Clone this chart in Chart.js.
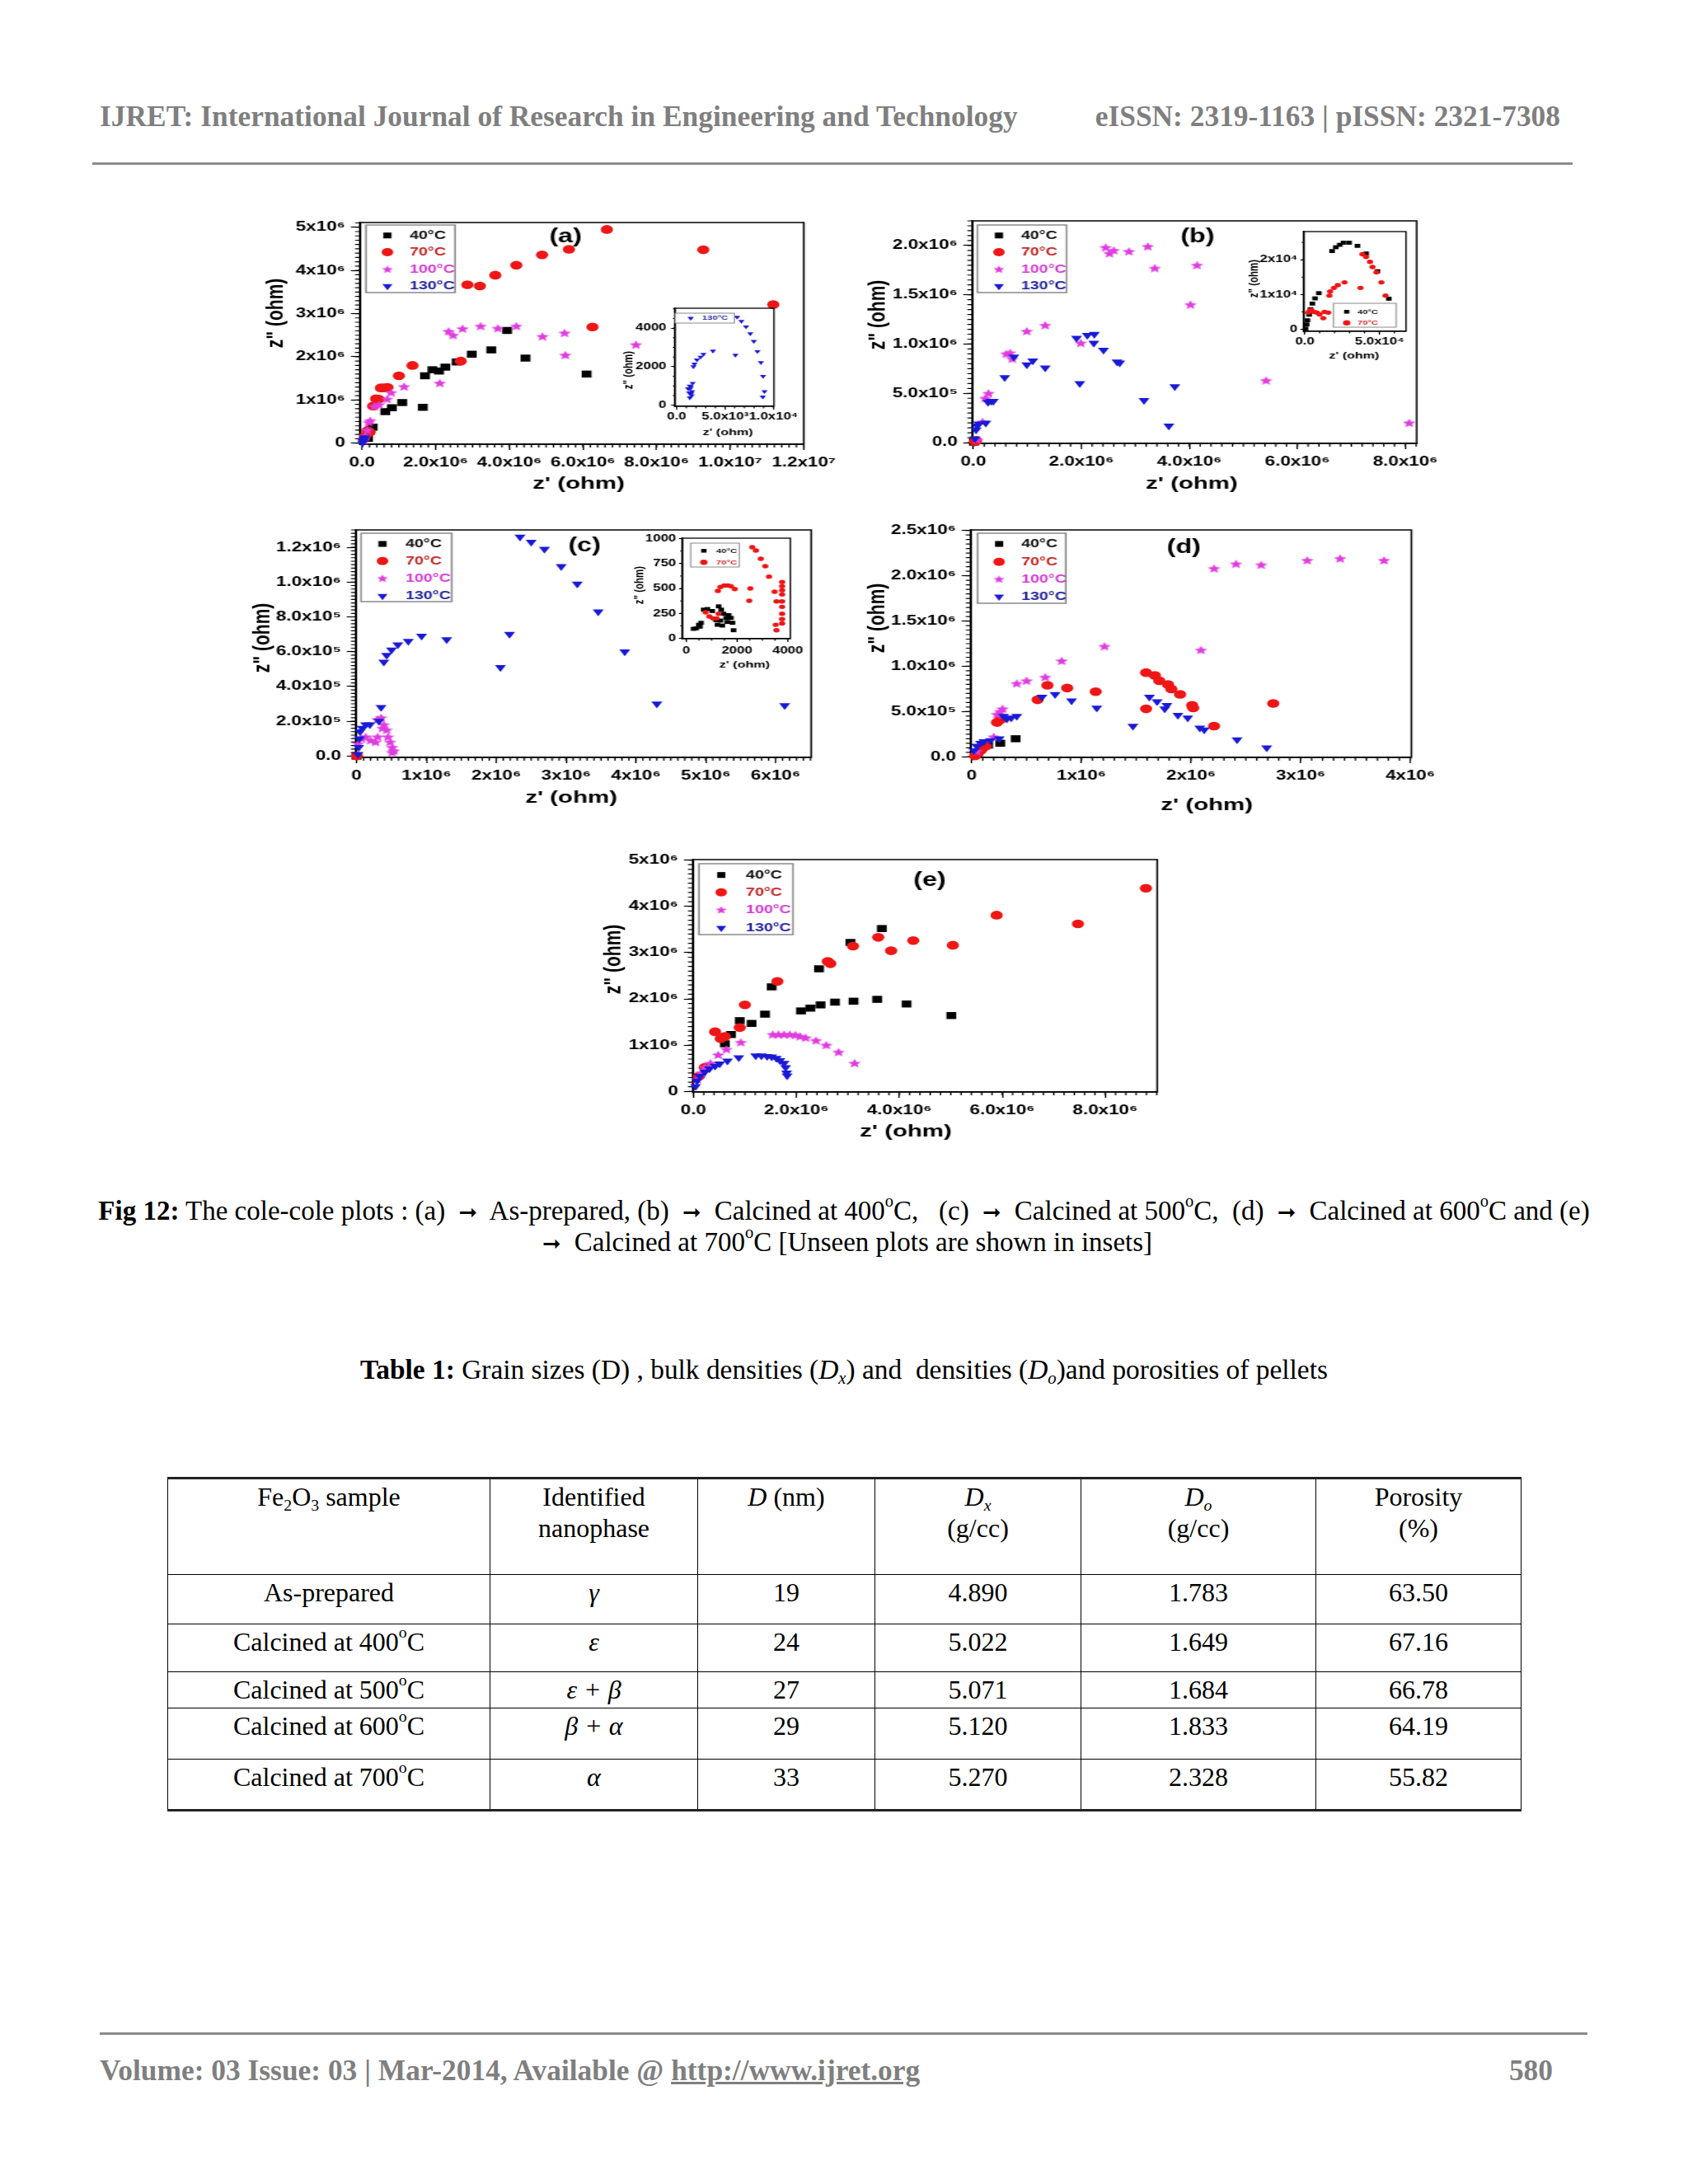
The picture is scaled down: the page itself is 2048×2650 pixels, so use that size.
<!DOCTYPE html>
<html>
<head>
<meta charset="utf-8">
<title>Fig 12: cole-cole plots</title>
<script src="https://cdn.jsdelivr.net/npm/chart.js@4.4.1/dist/chart.umd.min.js"></script>
<style>
html, body { margin:0; padding:0; background:#fff; }
body { position:relative; width:2048px; height:2650px; overflow:hidden; font-family:'Liberation Serif','Times New Roman',serif; color:#000; }
.t { position:absolute; white-space:nowrap; line-height:1; }
.hdr { font-weight:bold; font-size:35.4px; color:#7f7f7f; }
.rule { position:absolute; height:3px; background:#8c8c8c; }
.cap { position:absolute; left:0; width:2048px; text-align:center; font-size:33px; line-height:38px; white-space:nowrap; }
.arr { font-family:'DejaVu Sans', sans-serif; font-size:27px; display:inline-block; padding:0 8px; line-height:20px; }
sup { font-size:62%; line-height:0; vertical-align:0.8em; }
sub { font-size:62%; line-height:0; vertical-align:-0.3em; }
canvas.chart { position:absolute; }
table.data { position:absolute; left:203px; top:1792px; border-collapse:collapse; table-layout:fixed; font-size:32px; }
table.data td { border:1.5px solid #000; text-align:center; vertical-align:top; padding:2px 0 0 0; line-height:38px; }
table.data tr:first-child td { border-top:3px solid #222; }
table.data tr:last-child td { border-bottom:3px solid #222; }
</style>
</head>
<body>

<div class="t hdr" style="left:121px;top:124px;">IJRET: International Journal of Research in Engineering and Technology</div>
<div class="t hdr" style="right:155px;top:124px;">eISSN: 2319-1163 | pISSN: 2321-7308</div>
<div class="rule" style="left:112px;top:197px;width:1796px;"></div>

<div class="cap" style="top:1450px;"><b>Fig 12:</b> The cole-cole plots : (a) <span class="arr">➞</span> As-prepared, (b) <span class="arr">➞</span> Calcined at 400<sup>o</sup>C,&nbsp;&nbsp; (c) <span class="arr">➞</span> Calcined at 500<sup>o</sup>C,&nbsp; (d) <span class="arr">➞</span> Calcined at 600<sup>o</sup>C and (e)<br><span class="arr">➞</span> Calcined at 700<sup>o</sup>C [Unseen plots are shown in insets]</div>

<div class="cap" style="top:1643px;font-size:33.4px;"><b>Table 1:</b> Grain sizes (D) , bulk densities (<i>D<sub>x</sub></i>) and&nbsp; densities (<i>D<sub>o</sub></i>)and porosities of pellets</div>

<table class="data">
<colgroup><col style="width:391px"><col style="width:252px"><col style="width:215px"><col style="width:250px"><col style="width:285px"><col style="width:249px"></colgroup>
<tr style="height:117px"><td>Fe<sub>2</sub>O<sub>3</sub> sample</td><td>Identified<br>nanophase</td><td><i>D</i> (nm)</td><td><i>D<sub>x</sub></i><br>(g/cc)</td><td><i>D<sub>o</sub></i><br>(g/cc)</td><td>Porosity<br>(%)</td></tr>
<tr style="height:60px"><td>As-prepared</td><td><i>γ</i></td><td>19</td><td>4.890</td><td>1.783</td><td>63.50</td></tr>
<tr style="height:58px"><td>Calcined at 400<sup>o</sup>C</td><td><i>ε</i></td><td>24</td><td>5.022</td><td>1.649</td><td>67.16</td></tr>
<tr style="height:44px"><td>Calcined at 500<sup>o</sup>C</td><td><i>ε + β</i></td><td>27</td><td>5.071</td><td>1.684</td><td>66.78</td></tr>
<tr style="height:62px"><td>Calcined at 600<sup>o</sup>C</td><td><i>β + α</i></td><td>29</td><td>5.120</td><td>1.833</td><td>64.19</td></tr>
<tr style="height:62px"><td>Calcined at 700<sup>o</sup>C</td><td><i>α</i></td><td>33</td><td>5.270</td><td>2.328</td><td>55.82</td></tr>
</table>

<div class="rule" style="left:121px;top:2466px;width:1805px;"></div>
<div class="t hdr" style="left:121px;top:2495px;">Volume: 03 Issue: 03 | Mar-2014, Available @ <u>http://www.ijret.org</u></div>
<div class="t hdr" style="right:164px;top:2495px;">580</div>

<script>
// ================= DATA =================
const seriesNames = ['40°C', '70°C', '100°C', '130°C'];

// Panel (a) As-prepared  [Z', Z''] in ohm
const a40 = [[0.16e6,0.11e6],[0.23e6,0.32e6],[0.29e6,0.37e6],[0.63e6,0.73e6],[0.81e6,0.82e6],[1.09e6,0.94e6],[1.65e6,0.83e6],[1.71e6,1.56e6],[1.91e6,1.70e6],[2.09e6,1.67e6],[2.26e6,1.76e6],[2.57e6,1.88e6],[2.98e6,2.06e6],[3.51e6,2.16e6],[3.94e6,2.61e6],[4.44e6,1.97e6],[6.10e6,1.60e6]];
const a70 = [[0.08e6,0.16e6],[0.15e6,0.29e6],[0.20e6,0.25e6],[0.30e6,0.86e6],[0.38e6,1.03e6],[0.45e6,1.02e6],[0.51e6,1.28e6],[0.59e6,1.28e6],[0.69e6,1.29e6],[1.00e6,1.56e6],[1.37e6,1.80e6],[2.68e6,1.90e6],[2.86e6,3.67e6],[3.20e6,3.64e6],[3.62e6,3.89e6],[4.19e6,4.12e6],[4.89e6,4.36e6],[5.62e6,4.49e6],[6.65e6,4.95e6],[6.26e6,2.69e6],[9.27e6,4.48e6],[11.17e6,3.21e6]];
const a100 = [[0.05e6,0.06e6],[0.09e6,0.16e6],[0.14e6,0.30e6],[0.18e6,0.48e6],[0.22e6,0.52e6],[0.33e6,0.85e6],[0.46e6,0.89e6],[0.68e6,1.02e6],[0.79e6,1.17e6],[1.14e6,1.31e6],[2.11e6,1.39e6],[2.35e6,2.59e6],[2.47e6,2.50e6],[2.73e6,2.65e6],[3.22e6,2.71e6],[3.69e6,2.66e6],[4.19e6,2.71e6],[4.90e6,2.47e6],[5.50e6,2.55e6],[5.52e6,2.04e6],[7.44e6,2.28e6]];
const a130 = [[0.01e6,0.01e6],[0.03e6,0.04e6],[0.05e6,0.09e6],[0.07e6,0.13e6]];
// inset (a): 130°C
const ai130 = [[1360,386],[1290,643],[1180,857],[1360,1000],[1650,1143],[1600,714],[1540,500],[1400,860],[1500,600],[1450,950],[1730,2000],[1840,2143],[2100,2357],[2460,2500],[2760,2643],[3750,2814],[6070,2600],[6250,4570],[6690,4357],[7170,4071],[7610,3714],[7980,3314],[8350,2786],[8710,2214],[8930,1500],[9080,714],[8900,430]];

// Panel (b) Calcined at 400°C
const b40 = [[0.01e6,0.005e6],[0.02e6,0.01e6]];
const b70 = [[0.03e6,0.01e6],[0.05e6,0.02e6]];
const b100 = [[0.07e6,0.03e6],[0.17e6,0.21e6],[0.22e6,0.45e6],[0.28e6,0.50e6],[0.61e6,0.90e6],[0.68e6,0.91e6],[0.72e6,0.85e6],[0.99e6,1.13e6],[1.33e6,1.19e6],[1.99e6,1.01e6],[2.45e6,1.98e6],[2.52e6,1.92e6],[2.60e6,1.95e6],[2.88e6,1.94e6],[3.23e6,1.99e6],[3.36e6,1.77e6],[4.02e6,1.40e6],[4.14e6,1.80e6],[5.42e6,0.63e6],[8.07e6,0.20e6]];
const b130 = [[0.03e6,0.04e6],[0.05e6,0.13e6],[0.07e6,0.17e6],[0.10e6,0.19e6],[0.23e6,0.20e6],[0.27e6,0.41e6],[0.33e6,0.42e6],[0.37e6,0.42e6],[0.58e6,0.66e6],[0.75e6,0.87e6],[0.99e6,0.79e6],[1.10e6,0.83e6],[1.33e6,0.76e6],[1.91e6,1.06e6],[2.11e6,1.09e6],[2.24e6,1.10e6],[2.23e6,1.01e6],[1.97e6,0.60e6],[2.41e6,0.94e6],[2.66e6,0.82e6],[2.71e6,0.81e6],[3.16e6,0.43e6],[3.73e6,0.57e6],[3.62e6,0.17e6]];
// inset (b): 40°C and 70°C
const bi40 = [[500,200],[1300,1400],[1800,2600],[3000,4200],[3800,5800],[5100,7400],[6900,8900],[9400,10400],[18300,22500],[20800,23600],[23400,24300],[25900,24900],[29700,24900],[35300,24000],[41100,21800],[48700,16700],[56300,8800],[58900,6400]];
const bi70 = [[2300,4800],[3000,5100],[4300,5600],[6300,5000],[8100,4800],[9900,4300],[12400,3200],[13200,5000],[15700,4800],[16500,9700],[17000,10900],[19500,11900],[22100,12700],[26600,13500],[37300,11900],[38600,21600],[41100,20800],[43700,19400],[45400,17900],[48000,16400],[51300,13500],[54100,9700],[56300,4600],[56900,3200]];

// Panel (c) Calcined at 500°C
const c40 = [[0.001e6,0.0002e6],[0.0015e6,0.0003e6]];
const c70 = [[0.003e6,0.0005e6]];
const c100 = [[0.02e6,0.07e6],[0.07e6,0.10e6],[0.13e6,0.11e6],[0.20e6,0.09e6],[0.27e6,0.08e6],[0.30e6,0.21e6],[0.35e6,0.22e6],[0.39e6,0.18e6],[0.43e6,0.15e6],[0.45e6,0.11e6],[0.48e6,0.08e6],[0.51e6,0.05e6],[0.53e6,0.03e6],[0.51e6,0.02e6],[0.30e6,0.11e6],[0.37e6,0.16e6]];
const c130 = [[0.02e6,0.01e6],[0.03e6,0.05e6],[0.04e6,0.10e6],[0.05e6,0.14e6],[0.08e6,0.16e6],[0.13e6,0.18e6],[0.19e6,0.18e6],[0.32e6,0.20e6],[0.35e6,0.28e6],[0.39e6,0.54e6],[0.43e6,0.58e6],[0.50e6,0.61e6],[0.59e6,0.64e6],[0.74e6,0.66e6],[0.93e6,0.69e6],[1.29e6,0.67e6],[2.06e6,0.51e6],[2.19e6,0.70e6],[2.34e6,1.26e6],[2.50e6,1.23e6],[2.69e6,1.19e6],[2.93e6,1.09e6],[3.16e6,0.99e6],[3.46e6,0.83e6],[3.84e6,0.60e6],[4.30e6,0.30e6],[6.13e6,0.29e6]];
// inset (c): 40°C and 70°C
const ci40 = [[294,94],[397,99],[500,135],[588,155],[691,287],[838,293],[1029,273],[1176,182],[1235,135],[1279,320],[1382,287],[1470,246],[1574,204],[1618,163],[1676,232],[1765,204],[1824,155],[1868,80],[1353,177],[1426,127],[544,116]];
const ci70 = [[765,260],[912,218],[1059,199],[1206,199],[1279,246],[1250,475],[1353,514],[1500,530],[1647,530],[1765,522],[1912,494],[2485,376],[2529,500],[2603,914],[2750,881],[2941,798],[3118,724],[3265,619],[3485,467],[3559,370],[3529,135],[3559,80],[3779,564],[3779,522],[3779,481],[3779,439],[3779,370],[3779,315],[3779,246],[3779,191],[3779,149]];

// Panel (d) Calcined at 600°C
const d40 = [[0.03e6,0.03e6],[0.055e6,0.04e6],[0.097e6,0.10e6],[0.15e6,0.13e6],[0.26e6,0.15e6],[0.40e6,0.20e6]];
const d70 = [[0.03e6,0.01e6],[0.055e6,0.04e6],[0.08e6,0.07e6],[0.13e6,0.12e6],[0.23e6,0.38e6],[0.26e6,0.41e6],[0.60e6,0.63e6],[0.69e6,0.79e6],[0.87e6,0.76e6],[1.13e6,0.72e6],[1.59e6,0.93e6],[1.67e6,0.90e6],[1.71e6,0.84e6],[1.79e6,0.80e6],[1.82e6,0.75e6],[1.90e6,0.69e6],[1.59e6,0.53e6],[2.01e6,0.57e6],[2.02e6,0.54e6],[2.21e6,0.34e6],[2.75e6,0.59e6]];
const d100 = [[0.045e6,0.06e6],[0.20e6,0.22e6],[0.23e6,0.47e6],[0.26e6,0.50e6],[0.28e6,0.53e6],[0.41e6,0.81e6],[0.50e6,0.84e6],[0.67e6,0.88e6],[0.82e6,1.06e6],[1.21e6,1.22e6],[2.09e6,1.18e6],[2.21e6,2.08e6],[2.41e6,2.13e6],[2.64e6,2.12e6],[3.06e6,2.17e6],[3.36e6,2.19e6],[3.76e6,2.17e6]];
const d130 = [[0.02e6,0.07e6],[0.045e6,0.12e6],[0.08e6,0.15e6],[0.11e6,0.17e6],[0.17e6,0.18e6],[0.25e6,0.20e6],[0.29e6,0.45e6],[0.32e6,0.42e6],[0.36e6,0.43e6],[0.41e6,0.45e6],[0.64e6,0.66e6],[0.76e6,0.69e6],[0.91e6,0.62e6],[1.14e6,0.54e6],[1.47e6,0.34e6],[1.62e6,0.66e6],[1.69e6,0.61e6],[1.76e6,0.53e6],[1.78e6,0.57e6],[1.88e6,0.46e6],[1.97e6,0.43e6],[2.08e6,0.32e6],[2.12e6,0.30e6],[2.42e6,0.19e6],[2.69e6,0.10e6]];

// Panel (e) Calcined at 700°C
const e40 = [[0.61e6,1.03e6],[0.73e6,1.23e6],[0.90e6,1.53e6],[1.13e6,1.47e6],[1.39e6,1.67e6],[1.52e6,2.26e6],[2.09e6,1.74e6],[2.27e6,1.80e6],[2.47e6,1.87e6],[2.75e6,1.93e6],[3.11e6,1.95e6],[3.57e6,1.99e6],[4.14e6,1.89e6],[5.01e6,1.64e6],[2.44e6,2.65e6],[3.05e6,3.22e6],[3.66e6,3.52e6]];
const e70 = [[0.11e6,0.33e6],[0.22e6,0.52e6],[0.42e6,1.29e6],[0.53e6,1.14e6],[0.61e6,1.19e6],[0.90e6,1.38e6],[1.00e6,1.87e6],[1.63e6,2.38e6],[2.61e6,2.81e6],[2.66e6,2.76e6],[3.10e6,3.14e6],[3.59e6,3.33e6],[3.84e6,3.04e6],[4.27e6,3.26e6],[5.04e6,3.16e6],[5.89e6,3.81e6],[7.47e6,3.62e6],[8.79e6,4.39e6]];
const e100 = [[0.07e6,0.26e6],[0.15e6,0.40e6],[0.22e6,0.52e6],[0.33e6,0.61e6],[0.48e6,0.79e6],[0.64e6,0.91e6],[0.92e6,1.06e6],[1.54e6,1.23e6],[1.65e6,1.23e6],[1.76e6,1.23e6],[1.87e6,1.23e6],[1.98e6,1.22e6],[2.07e6,1.19e6],[2.18e6,1.16e6],[2.38e6,1.10e6],[2.58e6,1.00e6],[2.82e6,0.85e6],[3.13e6,0.61e6]];
const e130 = [[0.04e6,0.11e6],[0.07e6,0.23e6],[0.12e6,0.33e6],[0.22e6,0.42e6],[0.31e6,0.49e6],[0.42e6,0.55e6],[0.51e6,0.60e6],[0.66e6,0.66e6],[0.88e6,0.73e6],[1.21e6,0.77e6],[1.32e6,0.77e6],[1.43e6,0.76e6],[1.52e6,0.75e6],[1.61e6,0.72e6],[1.68e6,0.67e6],[1.76e6,0.61e6],[1.79e6,0.52e6],[1.81e6,0.40e6],[1.82e6,0.34e6]];

// Tick values and labels
const aXTicks = [0, 2e6, 4e6, 6e6, 8e6, 1e7, 1.2e7];
const aXLabels = ['0.0', '2.0x10⁶', '4.0x10⁶', '6.0x10⁶', '8.0x10⁶', '1.0x10⁷', '1.2x10⁷'];
const aYTicks = [0, 1e6, 2e6, 3e6, 4e6, 5e6];
const aYLabels = ['0', '1x10⁶', '2x10⁶', '3x10⁶', '4x10⁶', '5x10⁶'];
const aiXTicks = [0, 5000, 10000];
const aiXLabels = ['0.0', '5.0x10³', '1.0x10⁴'];
const aiYTicks = [0, 2000, 4000];
const aiYLabels = ['0', '2000', '4000'];
const bXTicks = [0, 2e6, 4e6, 6e6, 8e6];
const bXLabels = ['0.0', '2.0x10⁶', '4.0x10⁶', '6.0x10⁶', '8.0x10⁶'];
const bYTicks = [0, 5e5, 1e6, 1.5e6, 2e6];
const bYLabels = ['0.0', '5.0x10⁵', '1.0x10⁶', '1.5x10⁶', '2.0x10⁶'];
const biXTicks = [0, 5e4];
const biXLabels = ['0.0', '5.0x10⁴'];
const biYTicks = [0, 1e4, 2e4];
const biYLabels = ['0', '1x10⁴', '2x10⁴'];
const cXTicks = [0, 1e6, 2e6, 3e6, 4e6, 5e6, 6e6];
const cXLabels = ['0', '1x10⁶', '2x10⁶', '3x10⁶', '4x10⁶', '5x10⁶', '6x10⁶'];
const cYTicks = [0, 2e5, 4e5, 6e5, 8e5, 1e6, 1.2e6];
const cYLabels = ['0.0', '2.0x10⁵', '4.0x10⁵', '6.0x10⁵', '8.0x10⁵', '1.0x10⁶', '1.2x10⁶'];
const ciXTicks = [0, 2000, 4000];
const ciXLabels = ['0', '2000', '4000'];
const ciYTicks = [0, 250, 500, 750, 1000];
const ciYLabels = ['0', '250', '500', '750', '1000'];
const dXTicks = [0, 1e6, 2e6, 3e6, 4e6];
const dXLabels = ['0', '1x10⁶', '2x10⁶', '3x10⁶', '4x10⁶'];
const dYTicks = [0, 5e5, 1e6, 1.5e6, 2e6, 2.5e6];
const dYLabels = ['0.0', '5.0x10⁵', '1.0x10⁶', '1.5x10⁶', '2.0x10⁶', '2.5x10⁶'];
const eXTicks = [0, 2e6, 4e6, 6e6, 8e6];
const eXLabels = ['0.0', '2.0x10⁶', '4.0x10⁶', '6.0x10⁶', '8.0x10⁶'];
const eYTicks = [0, 1e6, 2e6, 3e6, 4e6, 5e6];
const eYLabels = ['0', '1x10⁶', '2x10⁶', '3x10⁶', '4x10⁶', '5x10⁶'];

// ================= STYLE =================
const S = 1.4; // the original figure is stretched horizontally
const SANS = "'Liberation Sans', Arial, Helvetica, sans-serif";
const kinds = ['square', 'circle', 'star', 'tri'];
const markColors = ['#000000', '#ee1616', '#e03ce0', '#1a1ad6'];
const textColors = ['#111111', '#c42828', '#d63cd6', '#25259e'];

function starImage(R, color) {
  const size = Math.ceil(R * 2 + 2);
  const c = document.createElement('canvas');
  c.width = size; c.height = size;
  const g = c.getContext('2d');
  g.fillStyle = color;
  g.beginPath();
  for (let i = 0; i < 10; i++) {
    const r = (i % 2) ? R * 0.45 : R;
    const a = -Math.PI / 2 + i * Math.PI / 5;
    g.lineTo(size / 2 + r * Math.cos(a), size / 2 + r * Math.sin(a) + R * 0.08);
  }
  g.closePath(); g.fill();
  return c;
}

function drawMarker(ctx, s, x, y) {
  ctx.fillStyle = s.color;
  ctx.beginPath();
  if (s.kind === 'square') {
    const h = s.r * Math.SQRT1_2;
    ctx.rect(x - h, y - h, 2 * h, 2 * h);
  } else if (s.kind === 'circle') {
    ctx.arc(x, y, s.r, 0, Math.PI * 2);
  } else if (s.kind === 'tri') {
    ctx.moveTo(x, y + s.r);
    ctx.lineTo(x - s.r * 0.866, y - s.r * 0.5);
    ctx.lineTo(x + s.r * 0.866, y - s.r * 0.5);
    ctx.closePath();
  } else {
    ctx.drawImage(s.img, x - s.img.width / 2, y - s.img.height / 2);
    return;
  }
  ctx.fill();
}

function makeChart(def) {
  const [L, T, R, B] = def.plot;
  const m = def.margins;
  const plotW = R - L, plotH = B - T;
  const Wi = Math.ceil((plotW + m.l + m.r) / S);
  const Hi = Math.ceil(plotH + m.t + m.b);
  const yW = m.l / S;
  const padR = Wi - yW - plotW / S;
  const xH = Hi - m.t - plotH;
  const ox = L - m.l, oy = T - m.t;
  const toX = px => (px - ox) / S;
  const toY = py => py - oy;

  const cv = document.createElement('canvas');
  cv.className = 'chart';
  cv.width = Wi; cv.height = Hi;
  cv.style.left = ox + 'px'; cv.style.top = oy + 'px';
  cv.style.width = (Wi * S) + 'px'; cv.style.height = Hi + 'px';
  cv.style.zIndex = def.z;
  document.body.appendChild(cv);

  const series = def.series.map(sr => {
    const s = { name: seriesNames[sr.idx], kind: kinds[sr.idx], color: markColors[sr.idx], textColor: textColors[sr.idx], r: sr.r, data: sr.data, idx: sr.idx };
    if (s.kind === 'star') s.img = starImage(sr.r, s.color);
    return s;
  });

  const datasets = series.map(s => {
    const ds = {
      label: s.name, data: s.data, backgroundColor: s.color, borderColor: s.color,
      pointBackgroundColor: s.color, pointBorderWidth: 0, borderWidth: 0,
      pointRadius: s.r, pointHoverRadius: s.r, order: 3 - s.idx, clip: false
    };
    if (s.kind === 'square') { ds.pointStyle = 'rect'; }
    else if (s.kind === 'circle') { ds.pointStyle = 'circle'; }
    else if (s.kind === 'tri') { ds.pointStyle = 'triangle'; ds.pointRotation = 180; }
    else { ds.pointStyle = s.img; }
    return ds;
  });

  const f = def.fonts;
  const decor = {
    id: 'decor',
    beforeDatasetsDraw(chart) {
      const { ctx, chartArea: ca } = chart;
      const xs = chart.scales.x, ys = chart.scales.y;
      ctx.save();
      ctx.strokeStyle = '#000';
      ctx.lineWidth = def.tickW;
      ctx.beginPath();
      const mx = def.minor.x, my = def.minor.y;
      for (let k = Math.ceil(xs.min / mx); k <= Math.floor(xs.max / mx); k++) {
        const p = xs.getPixelForValue(k * mx);
        ctx.moveTo(p, ca.bottom); ctx.lineTo(p, ca.bottom + def.minor.xLen);
      }
      for (let k = Math.ceil(ys.min / my); k <= Math.floor(ys.max / my); k++) {
        const p = ys.getPixelForValue(k * my);
        ctx.moveTo(ca.left, p); ctx.lineTo(ca.left - def.minor.yLen, p);
      }
      ctx.stroke();
      ctx.lineWidth = def.frameW;
      ctx.strokeRect(ca.left, ca.top, ca.right - ca.left, ca.bottom - ca.top);
      ctx.restore();
    },
    afterDatasetsDraw(chart) {
      const ctx = chart.ctx;
      ctx.save();
      const lg = def.legend;
      if (lg) {
        const x0 = toX(lg.box[0]), y0 = toY(lg.box[1]), x1 = toX(lg.box[2]), y1 = toY(lg.box[3]);
        ctx.fillStyle = '#fff';
        ctx.fillRect(x0, y0, x1 - x0, y1 - y0);
        ctx.strokeStyle = '#8a8a8a'; ctx.lineWidth = lg.lw;
        ctx.strokeRect(x0, y0, x1 - x0, y1 - y0);
        ctx.font = 'bold ' + f.legend + 'px ' + SANS;
        ctx.textBaseline = 'middle'; ctx.textAlign = 'left';
        series.forEach((s, i) => {
          const yy = toY(lg.rows[i]);
          const ms = Object.assign({}, s, { r: lg.r || s.r });
          if (ms.kind === 'star' && lg.r) ms.img = starImage(lg.r, s.color);
          drawMarker(ctx, ms, toX(lg.mx), yy);
          ctx.fillStyle = s.textColor;
          ctx.fillText(s.name, toX(lg.tx), yy);
        });
      }
      ctx.fillStyle = '#000';
      ctx.textAlign = 'center'; ctx.textBaseline = 'middle';
      if (def.tag) {
        ctx.font = 'bold ' + f.tag + 'px ' + SANS;
        ctx.fillText(def.tag.text, toX(def.tag.x), toY(def.tag.y));
      }
      ctx.font = 'bold ' + f.title + 'px ' + SANS;
      ctx.fillText("z' (ohm)", toX(def.xTitle[0]), toY(def.xTitle[1]));
      ctx.save();
      ctx.translate(toX(def.yTitle[0]), toY(def.yTitle[1]));
      ctx.rotate(-Math.PI / 2);
      ctx.fillText('z" (ohm)', 0, 0);
      ctx.restore();
      ctx.restore();
    }
  };

  const ax = def.axes;
  new Chart(cv.getContext('2d'), {
    type: 'scatter',
    data: { datasets },
    options: {
      responsive: false, animation: false, devicePixelRatio: 1, events: [],
      layout: { padding: { left: 0, top: m.t, right: padR, bottom: 0 }, autoPadding: false },
      plugins: { legend: { display: false }, tooltip: { enabled: false } },
      scales: {
        x: {
          type: 'linear', position: 'bottom', min: ax.x.min, max: ax.x.max,
          afterFit: s => { s.height = xH; },
          afterBuildTicks: s => { s.ticks = ax.x.ticks.map(v => ({ value: v })); },
          ticks: { callback: (v, i) => ax.x.labels[i], autoSkip: false, maxRotation: 0, minRotation: 0,
                   font: { family: SANS, weight: 'bold', size: f.tick }, color: '#000', padding: ax.x.pad },
          grid: { display: true, drawOnChartArea: false, drawTicks: true, tickLength: ax.x.tl, tickColor: '#000', tickWidth: def.tickW },
          border: { display: true, color: '#000', width: def.frameW }
        },
        y: {
          type: 'linear', position: 'left', min: ax.y.min, max: ax.y.max,
          afterFit: s => { s.width = yW; },
          afterBuildTicks: s => { s.ticks = ax.y.ticks.map(v => ({ value: v })); },
          ticks: { callback: (v, i) => ax.y.labels[i], autoSkip: false,
                   font: { family: SANS, weight: 'bold', size: f.tick }, color: '#000', padding: ax.y.pad },
          grid: { display: true, drawOnChartArea: false, drawTicks: true, tickLength: ax.y.tl, tickColor: '#000', tickWidth: def.tickW },
          border: { display: true, color: '#000', width: def.frameW }
        }
      }
    },
    plugins: [decor]
  });
}

const mainMargins = { l: 150, r: 70, t: 25, b: 75 };
const mainFonts = { tick: 16, title: 21, tag: 23, legend: 14 };
const insetMargins = { l: 70, r: 40, t: 12, b: 45 };
const insetFonts = { tick: 12, title: 11.5, legend: 8 };
const R_MAIN = [6.0, 5.3, 5.8, 5.5];

function mainSeries(arrs) { return arrs.map((d, i) => ({ idx: i, data: d, r: R_MAIN[i] })); }

// ---- Panel (a)
makeChart({
  z: 1, plot: [437, 270, 975, 539], margins: mainMargins, fonts: mainFonts, tickW: 1.2, frameW: 1.5,
  axes: { x: { min: -0.05e6, max: 1.2e7, ticks: aXTicks, labels: aXLabels, tl: 7, pad: 6 },
          y: { min: -0.025e6, max: 5.11e6, ticks: aYTicks, labels: aYLabels, tl: 8, pad: 5 } },
  minor: { x: 2e5, y: 1e5, xLen: 4, yLen: 4.5 },
  series: mainSeries([a40, a70, a100, a130]),
  legend: { box: [444, 273, 552, 355], rows: [285.7, 306, 326.7, 347.3], mx: 470, tx: 497, lw: 1.5, r: 5 },
  tag: { text: '(a)', x: 686, y: 288 }, xTitle: [702, 587], yTitle: [335, 380]
});
// ---- Panel (b)
makeChart({
  z: 1, plot: [1180, 268, 1719, 538], margins: mainMargins, fonts: mainFonts, tickW: 1.2, frameW: 1.5,
  axes: { x: { min: -0.015e6, max: 8.21e6, ticks: bXTicks, labels: bXLabels, tl: 7, pad: 6 },
          y: { min: -0.008e6, max: 2.25e6, ticks: bYTicks, labels: bYLabels, tl: 8, pad: 5 } },
  minor: { x: 2e5, y: 5e4, xLen: 4, yLen: 4.5 },
  series: mainSeries([b40, b70, b100, b130]),
  legend: { box: [1186, 273, 1294, 355], rows: [285.7, 306, 326.7, 347.3], mx: 1212, tx: 1239, lw: 1.5, r: 5 },
  tag: { text: '(b)', x: 1453, y: 288 }, xTitle: [1446, 587], yTitle: [1065, 382]
});
// ---- Panel (c)
makeChart({
  z: 1, plot: [432, 643, 984, 919], margins: mainMargins, fonts: mainFonts, tickW: 1.2, frameW: 1.5,
  axes: { x: { min: -0.007e6, max: 6.51e6, ticks: cXTicks, labels: cXLabels, tl: 7, pad: 6 },
          y: { min: -0.008e6, max: 1.30e6, ticks: cYTicks, labels: cYLabels, tl: 8, pad: 5 } },
  minor: { x: 1e5, y: 2e4, xLen: 4, yLen: 4.5 },
  series: mainSeries([c40, c70, c100, c130]),
  legend: { box: [438, 647, 548, 730], rows: [660, 680.7, 701.7, 723.3], mx: 464, tx: 492, lw: 1.5, r: 5 },
  tag: { text: '(c)', x: 709, y: 663 }, xTitle: [693, 968], yTitle: [319, 774]
});
// ---- Panel (d)
makeChart({
  z: 1, plot: [1178, 643, 1712, 919], margins: mainMargins, fonts: mainFonts, tickW: 1.2, frameW: 1.5,
  axes: { x: { min: -0.007e6, max: 4.01e6, ticks: dXTicks, labels: dXLabels, tl: 7, pad: 6 },
          y: { min: -0.006e6, max: 2.506e6, ticks: dYTicks, labels: dYLabels, tl: 8, pad: 5 } },
  minor: { x: 1e5, y: 5e4, xLen: 4, yLen: 4.5 },
  series: mainSeries([d40, d70, d100, d130]),
  legend: { box: [1186, 647, 1293, 732], rows: [660, 681.7, 702.7, 724], mx: 1212, tx: 1239, lw: 1.5, r: 5 },
  tag: { text: '(d)', x: 1436, y: 665 }, xTitle: [1464, 977], yTitle: [1065, 750]
});
// ---- Panel (e)
makeChart({
  z: 1, plot: [841, 1043, 1404, 1325], margins: mainMargins, fonts: mainFonts, tickW: 1.2, frameW: 1.5,
  axes: { x: { min: -0.005e6, max: 9.01e6, ticks: eXTicks, labels: eXLabels, tl: 7, pad: 6 },
          y: { min: -0.012e6, max: 5.01e6, ticks: eYTicks, labels: eYLabels, tl: 8, pad: 5 } },
  minor: { x: 2e5, y: 1e5, xLen: 4, yLen: 4.5 },
  series: mainSeries([e40, e70, e100, e130]),
  legend: { box: [848, 1048, 962, 1134], rows: [1061.7, 1082.7, 1104, 1126], mx: 875, tx: 905, lw: 1.5, r: 5 },
  tag: { text: '(e)', x: 1128, y: 1069 }, xTitle: [1099, 1373], yTitle: [744, 1164]
});

// ---- Insets
makeChart({
  z: 2, plot: [819, 374, 939, 493], margins: insetMargins, fonts: insetFonts, tickW: 1, frameW: 1.3,
  axes: { x: { min: -170, max: 10060, ticks: aiXTicks, labels: aiXLabels, tl: 4, pad: 1 },
          y: { min: -56, max: 5030, ticks: aiYTicks, labels: aiYLabels, tl: 3.5, pad: 4 } },
  minor: { x: 1000, y: 500, xLen: 2.5, yLen: 2 },
  series: [{ idx: 3, data: ai130, r: 3.1 }],
  legend: { box: [819, 380, 891, 392], rows: [386], mx: 838, tx: 852, lw: 1, r: 3.2 },
  xTitle: [883, 525], yTitle: [763, 449]
});
makeChart({
  z: 2, plot: [1582, 281, 1706, 402], margins: insetMargins, fonts: insetFonts, tickW: 1, frameW: 1.3,
  axes: { x: { min: -600, max: 67800, ticks: biXTicks, labels: biXLabels, tl: 4, pad: 1.5 },
          y: { min: -570, max: 28100, ticks: biYTicks, labels: biYLabels, tl: 3, pad: 2.5 } },
  minor: { x: 10000, y: 5000, xLen: 2.5, yLen: 2 },
  series: [{ idx: 0, data: bi40, r: 3.4 }, { idx: 1, data: bi70, r: 2.7 }],
  legend: { box: [1618, 368, 1694, 397], rows: [378.3, 391.7], mx: 1634, tx: 1647, lw: 1, r: 3.2 },
  xTitle: [1643, 432], yTitle: [1522, 338]
});
makeChart({
  z: 2, plot: [828, 653, 959, 775], margins: insetMargins, fonts: insetFonts, tickW: 1, frameW: 1.3,
  axes: { x: { min: -146, max: 4103, ticks: ciXTicks, labels: ciXLabels, tl: 4, pad: 3.5 },
          y: { min: -5, max: 1005, ticks: ciYTicks, labels: ciYLabels, tl: 3, pad: 2.5 } },
  minor: { x: 500, y: 125, xLen: 2.5, yLen: 2 },
  series: [{ idx: 0, data: ci40, r: 3.4 }, { idx: 1, data: ci70, r: 2.7 }],
  legend: { box: [838, 659, 897, 688], rows: [668.3, 682.3], mx: 854, tx: 869, lw: 1, r: 3.2 },
  xTitle: [903.5, 807], yTitle: [776, 710]
});
</script>
</body>
</html>
